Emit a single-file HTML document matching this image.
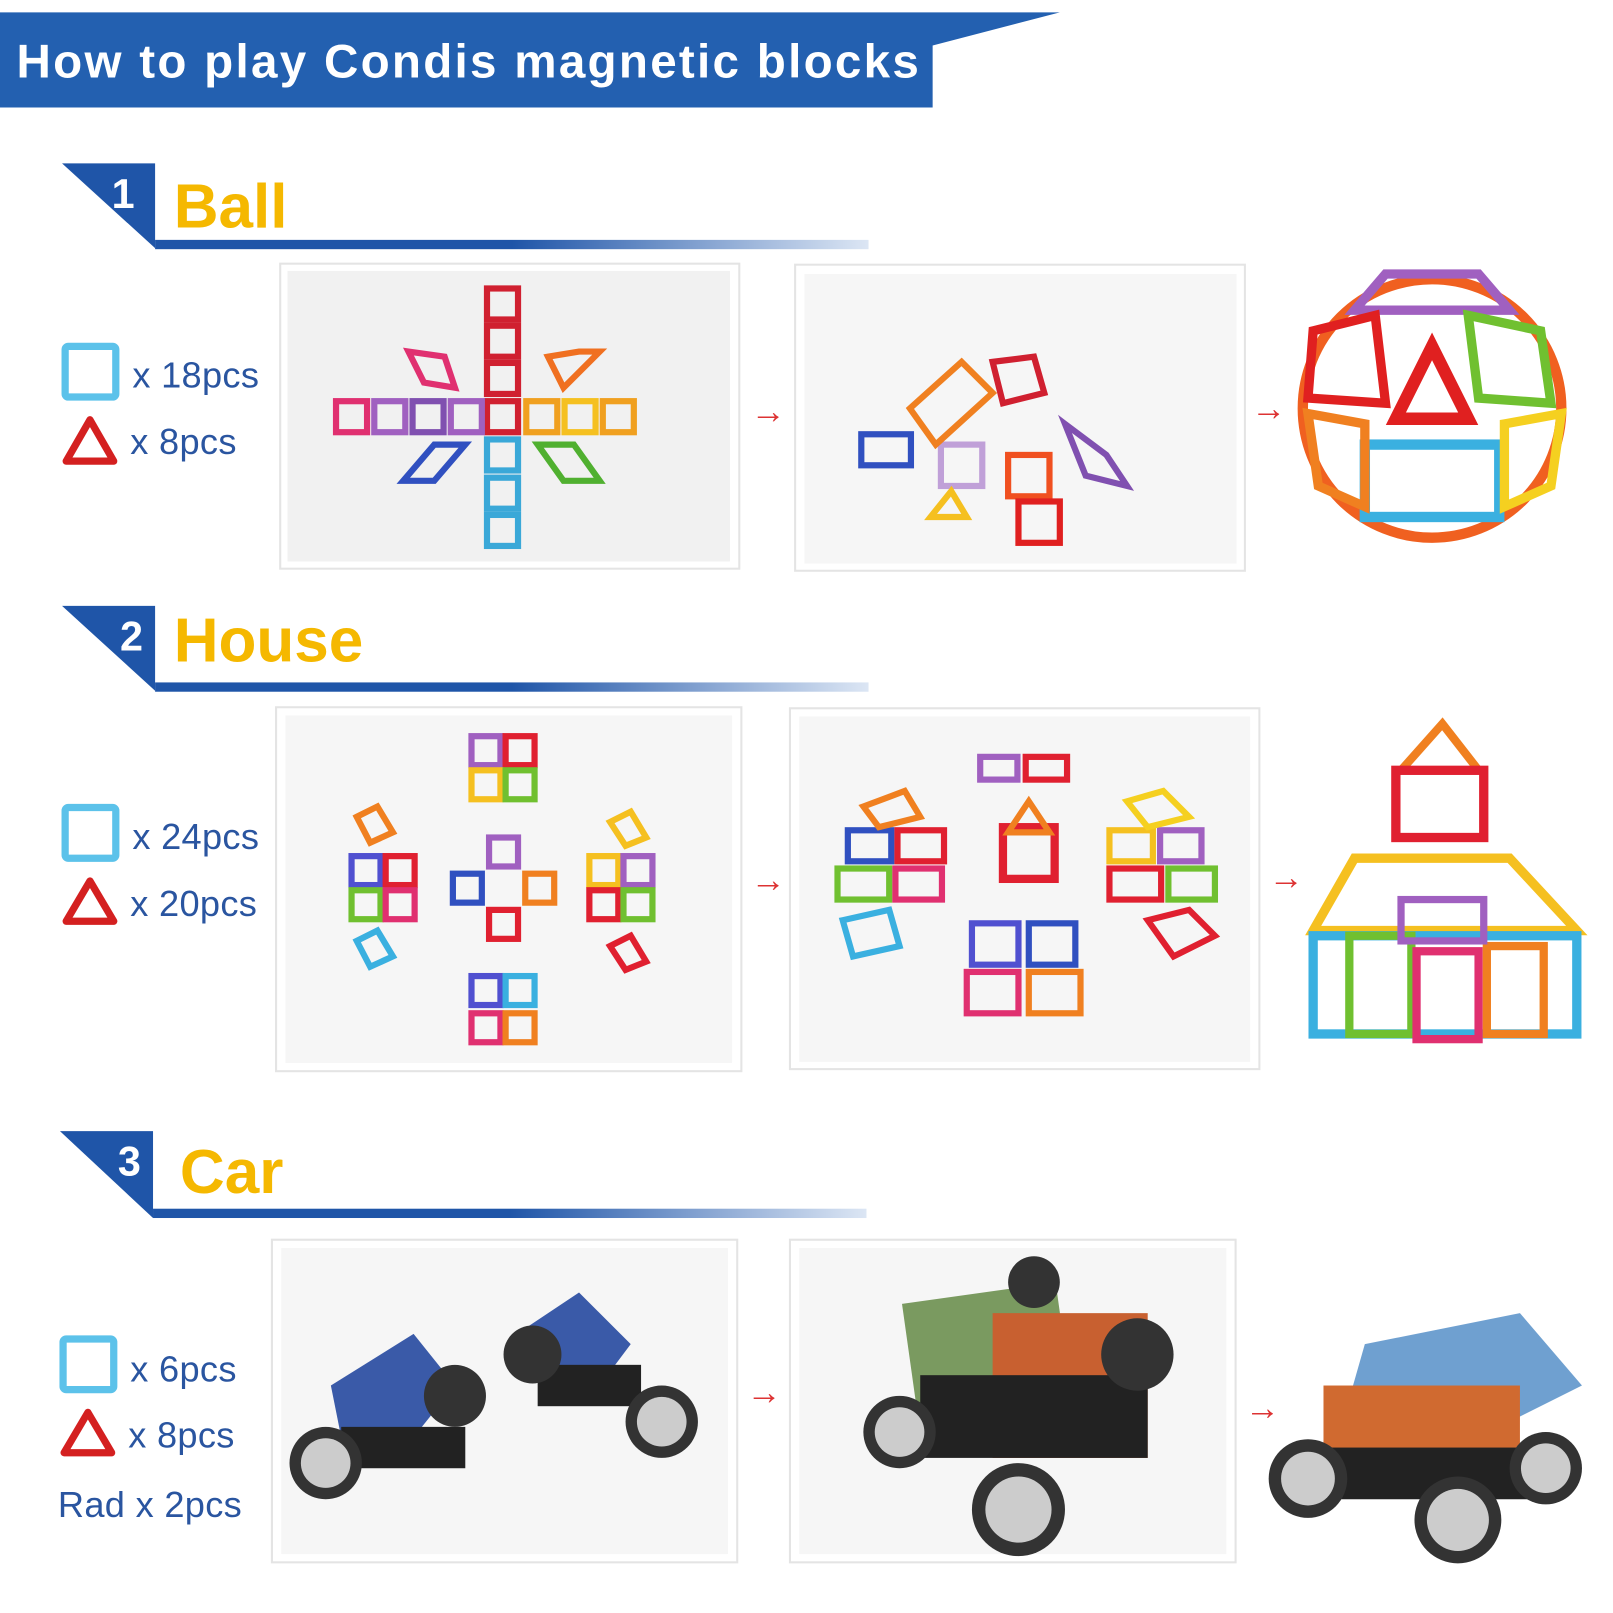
<!DOCTYPE html>
<html><head><meta charset="utf-8"><style>
html,body{margin:0;padding:0;background:#fff;overflow:hidden}
#w{position:absolute;left:0;top:0;width:1560px;height:1560px;transform:scale(1.03397);transform-origin:0 0;font-family:"Liberation Sans",sans-serif}
.a{position:absolute}
.t{position:absolute;color:#2a55a0;font-size:35px;line-height:34px;letter-spacing:0.3px}
.h{position:absolute;color:#f5b800;font-weight:bold;font-size:60px;line-height:60px}
.n{position:absolute;color:#fff;font-weight:bold;font-size:40px;line-height:40px}
.box{position:absolute;border:2px solid #e4e4e4;background:#fff;box-sizing:border-box}
.in{position:absolute;background:#f1f1f1}
.arr{position:absolute;color:#d33;font-size:34px;line-height:34px}
.bar{position:absolute;height:9px;background:linear-gradient(90deg,#1f55a8 0%,#1f55a8 50%,#dce6f4 100%)}
</style></head><body><div id="w">
<svg class="a" style="left:0;top:0" width="1560" height="1560">
<polygon points="0,12 1025,12 902,44 902,104 0,104" fill="#2360b0"/>
<polygon points="60,158 150,158 150,240" fill="#1f55a8"/>
<polygon points="60,586 150,586 150,668" fill="#1f55a8"/>
<polygon points="58,1094 148,1094 148,1178" fill="#1f55a8"/>
<g fill="none" stroke-width="7">
<rect x="63" y="335" width="49" height="49" rx="3" stroke="#5cc2ea"/>
<polygon points="87,406 110,446 64,446" stroke="#d42020" stroke-linejoin="round"/>
<rect x="63" y="781" width="49" height="49" rx="3" stroke="#5cc2ea"/>
<polygon points="87,852 110,891 64,891" stroke="#d42020" stroke-linejoin="round"/>
<rect x="61" y="1295" width="49" height="49" rx="3" stroke="#5cc2ea"/>
<polygon points="85,1366 108,1405 62,1405" stroke="#d42020" stroke-linejoin="round"/>
</g>
</svg>
<div class="a" style="left:16px;top:34px;color:#fff;font-weight:bold;font-size:46px;line-height:50px;letter-spacing:2.2px">How to play Condis magnetic blocks</div>

<div class="n" style="left:108px;top:168px">1</div><div class="h" style="left:168px;top:170px">Ball</div>
<div class="bar" style="left:150px;top:232px;width:690px"></div>
<div class="n" style="left:116px;top:596px">2</div><div class="h" style="left:168px;top:590px">House</div>
<div class="bar" style="left:150px;top:660px;width:690px"></div>
<div class="n" style="left:114px;top:1104px">3</div><div class="h" style="left:174px;top:1104px">Car</div>
<div class="bar" style="left:148px;top:1169px;width:690px"></div>

<div class="t" style="left:128px;top:347px">x 18pcs</div><div class="t" style="left:126px;top:411px">x 8pcs</div>
<div class="t" style="left:128px;top:793px">x 24pcs</div><div class="t" style="left:126px;top:858px">x 20pcs</div>
<div class="t" style="left:126px;top:1308px">x 6pcs</div><div class="t" style="left:124px;top:1372px">x 8pcs</div>
<div class="t" style="left:56px;top:1439px">Rad x 2pcs</div>

<div class="box" style="left:270px;top:254px;width:446px;height:297px"></div><div class="in" style="left:278px;top:262px;width:428px;height:281px"></div>
<div class="box" style="left:768px;top:255px;width:437px;height:298px"></div><div class="in" style="left:778px;top:265px;width:418px;height:280px;background:#f6f6f6"></div>
<div class="box" style="left:266px;top:683px;width:452px;height:354px"></div><div class="in" style="left:276px;top:692px;width:432px;height:336px;background:#f6f6f6"></div>
<div class="box" style="left:763px;top:684px;width:456px;height:351px"></div><div class="in" style="left:773px;top:693px;width:436px;height:334px;background:#f6f6f6"></div>
<div class="box" style="left:262px;top:1198px;width:452px;height:314px"></div><div class="in" style="left:272px;top:1207px;width:432px;height:296px;background:#f6f6f6"></div>
<div class="box" style="left:763px;top:1198px;width:433px;height:314px"></div><div class="in" style="left:773px;top:1207px;width:413px;height:296px;background:#f6f6f6"></div>

<div class="arr" style="left:726px;top:381px">→</div><div class="arr" style="left:1210px;top:378px">→</div>
<div class="arr" style="left:726px;top:834px">→</div><div class="arr" style="left:1227px;top:832px">→</div>
<div class="arr" style="left:722px;top:1330px">→</div><div class="arr" style="left:1204px;top:1345px">→</div>

<svg class="a" style="left:0;top:0" width="1560" height="1560">
<g fill="none" stroke-width="6">
<rect x="471" y="279" width="30" height="30" stroke="#d02030"/><rect x="471" y="315" width="30" height="30" stroke="#d02030"/><rect x="471" y="351" width="30" height="30" stroke="#d02030"/><rect x="471" y="388" width="30" height="30" stroke="#d02030"/>
<rect x="471" y="425" width="30" height="30" stroke="#3aa8d8"/><rect x="471" y="462" width="30" height="30" stroke="#3aa8d8"/><rect x="471" y="498" width="30" height="30" stroke="#3aa8d8"/>
<rect x="325" y="388" width="30" height="30" stroke="#e03070"/><rect x="362" y="388" width="30" height="30" stroke="#a060c0"/><rect x="399" y="388" width="30" height="30" stroke="#8050b0"/><rect x="436" y="388" width="30" height="30" stroke="#a060c0"/>
<rect x="509" y="388" width="30" height="30" stroke="#f0a020"/><rect x="546" y="388" width="30" height="30" stroke="#f5c020"/><rect x="583" y="388" width="30" height="30" stroke="#f0a020"/>
<polygon points="395,340 430,345 440,375 410,370" stroke="#e03070"/><polygon points="530,345 560,340 580,340 545,375" stroke="#f07020"/>
<polygon points="390,465 420,430 450,430 420,465" stroke="#3050c0"/><polygon points="520,430 555,430 580,465 545,465" stroke="#50b030"/>
<rect x="833" y="420" width="48" height="30" stroke="#3050c0"/><rect x="975" y="440" width="40" height="40" stroke="#f05020"/><rect x="985" y="485" width="40" height="40" stroke="#e02020"/>
<rect x="910" y="430" width="40" height="40" stroke="#c0a0d8"/><polygon points="880,395 930,350 960,380 905,430" stroke="#f08020"/><polygon points="1030,410 1070,440 1090,470 1050,460" stroke="#8050b0"/>
<polygon points="900,500 920,475 935,500" stroke="#f5c020"/><polygon points="960,350 1000,345 1010,380 970,390" stroke="#d02030"/>
<circle cx="1385" cy="395" r="125" stroke="#f06020" stroke-width="10"/>
<polygon points="1340,265 1430,265 1460,300 1310,300" stroke="#a060c0" stroke-width="9"/>
<polygon points="1385,335 1420,405 1350,405" stroke="#e02020" stroke-width="12"/>
<rect x="1320" y="430" width="130" height="70" stroke="#3ab0e0" stroke-width="10"/>
<polygon points="1270,320 1330,305 1340,390 1265,385" stroke="#e02020" stroke-width="9"/>
<polygon points="1420,305 1490,320 1500,390 1430,385" stroke="#70c030" stroke-width="9"/>
<polygon points="1265,400 1320,410 1320,490 1275,470" stroke="#f08020" stroke-width="9"/>
<polygon points="1455,410 1510,400 1500,470 1455,490" stroke="#f5d020" stroke-width="9"/>
<rect x="456" y="712" width="28" height="28" stroke="#a060c0"/><rect x="489" y="712" width="28" height="28" stroke="#e02030"/>
<rect x="456" y="745" width="28" height="28" stroke="#f5c020"/><rect x="489" y="745" width="28" height="28" stroke="#70c030"/>
<rect x="473" y="810" width="28" height="28" stroke="#a060c0"/><rect x="473" y="880" width="28" height="28" stroke="#e02030"/>
<rect x="456" y="944" width="28" height="28" stroke="#5050d0"/><rect x="489" y="944" width="28" height="28" stroke="#3ab0e0"/>
<rect x="456" y="980" width="28" height="28" stroke="#e03070"/><rect x="489" y="980" width="28" height="28" stroke="#f08020"/>
<rect x="340" y="828" width="28" height="28" stroke="#5050d0"/><rect x="373" y="828" width="28" height="28" stroke="#e02030"/>
<rect x="340" y="861" width="28" height="28" stroke="#70c030"/><rect x="373" y="861" width="28" height="28" stroke="#e03070"/>
<rect x="438" y="845" width="28" height="28" stroke="#3050c0"/><rect x="508" y="845" width="28" height="28" stroke="#f08020"/>
<rect x="570" y="828" width="28" height="28" stroke="#f5c020"/><rect x="603" y="828" width="28" height="28" stroke="#a060c0"/>
<rect x="570" y="861" width="28" height="28" stroke="#e02030"/><rect x="603" y="861" width="28" height="28" stroke="#70c030"/>
<polygon points="345,790 365,780 380,805 358,815" stroke="#f08020"/><polygon points="590,795 610,785 625,810 605,818" stroke="#f5c020"/>
<polygon points="345,910 365,900 380,925 358,935" stroke="#3ab0e0"/><polygon points="590,915 610,905 625,930 605,938" stroke="#e02030"/>
<rect x="948" y="732" width="36" height="22" stroke="#a060c0"/><rect x="992" y="732" width="40" height="22" stroke="#e02030"/>
<rect x="970" y="800" width="50" height="50" stroke="#e02030" stroke-width="8"/><polygon points="995,775 1015,805 975,805" stroke="#f08020"/>
<rect x="940" y="893" width="45" height="40" stroke="#5050d0"/><rect x="995" y="893" width="45" height="40" stroke="#3050c0"/>
<rect x="935" y="940" width="50" height="40" stroke="#e03070"/><rect x="995" y="940" width="50" height="40" stroke="#f08020"/>
<rect x="820" y="803" width="42" height="30" stroke="#3050c0"/><rect x="868" y="803" width="45" height="30" stroke="#e02030"/>
<rect x="810" y="840" width="50" height="30" stroke="#70c030"/><rect x="866" y="840" width="45" height="30" stroke="#e03070"/>
<polygon points="815,890 860,880 870,915 825,925" stroke="#3ab0e0"/><polygon points="835,780 875,765 890,790 850,800" stroke="#f08020"/>
<rect x="1073" y="803" width="42" height="30" stroke="#f5c020"/><rect x="1122" y="803" width="40" height="30" stroke="#a060c0"/>
<rect x="1073" y="840" width="50" height="30" stroke="#e02030"/><rect x="1130" y="840" width="45" height="30" stroke="#70c030"/>
<polygon points="1110,890 1150,880 1175,905 1135,925" stroke="#e02030"/><polygon points="1090,775 1125,765 1150,790 1110,800" stroke="#f5d020"/>
<polygon points="1395,700 1430,745 1355,745" stroke="#f08020" stroke-width="8"/>
<rect x="1350" y="745" width="85" height="65" stroke="#e02030" stroke-width="9"/>
<polygon points="1310,830 1460,830 1525,900 1270,900" stroke="#f5c020" stroke-width="9"/>
<rect x="1270" y="905" width="255" height="95" stroke="#3ab0e0" stroke-width="9"/>
<rect x="1305" y="905" width="60" height="95" stroke="#70c030" stroke-width="8"/>
<rect x="1370" y="920" width="60" height="85" stroke="#e03070" stroke-width="8"/>
<rect x="1438" y="915" width="55" height="85" stroke="#f08020" stroke-width="8"/>
<rect x="1355" y="870" width="80" height="40" stroke="#a060c0" stroke-width="7"/>
</g>
<g>
<polygon points="320,1340 400,1290 440,1340 400,1390 330,1390" fill="#3a5aa8"/>
<rect x="330" y="1380" width="120" height="40" fill="#222"/>
<circle cx="315" cy="1415" r="35" fill="#333"/><circle cx="315" cy="1415" r="24" fill="#ccc"/>
<circle cx="440" cy="1350" r="30" fill="#333"/>
<polygon points="500,1290 560,1250 610,1300 580,1340 510,1330" fill="#3a5aa8"/>
<rect x="520" y="1320" width="100" height="40" fill="#222"/>
<circle cx="515" cy="1310" r="28" fill="#333"/><circle cx="640" cy="1375" r="35" fill="#333"/><circle cx="640" cy="1375" r="24" fill="#ccc"/>
<rect x="880" y="1250" width="150" height="120" fill="#7a9a60" transform="rotate(-8 955 1310)"/>
<rect x="960" y="1270" width="150" height="140" fill="#c86030"/>
<rect x="890" y="1330" width="220" height="80" fill="#222"/>
<circle cx="870" cy="1385" r="35" fill="#333"/><circle cx="870" cy="1385" r="24" fill="#ccc"/>
<circle cx="985" cy="1460" r="45" fill="#333"/><circle cx="985" cy="1460" r="32" fill="#ccc"/>
<circle cx="1100" cy="1310" r="35" fill="#333"/><circle cx="1000" cy="1240" r="25" fill="#333"/>
<polygon points="1320,1300 1470,1270 1530,1340 1450,1380 1300,1370" fill="#6fa0d0"/>
<rect x="1280" y="1340" width="190" height="80" fill="#d06a30"/>
<rect x="1250" y="1400" width="250" height="50" fill="#222"/>
<circle cx="1265" cy="1430" r="38" fill="#333"/><circle cx="1265" cy="1430" r="26" fill="#ccc"/>
<circle cx="1410" cy="1470" r="42" fill="#333"/><circle cx="1410" cy="1470" r="30" fill="#ccc"/>
<circle cx="1495" cy="1420" r="35" fill="#333"/><circle cx="1495" cy="1420" r="24" fill="#ccc"/>
</g>
</svg>
</div></body></html>
